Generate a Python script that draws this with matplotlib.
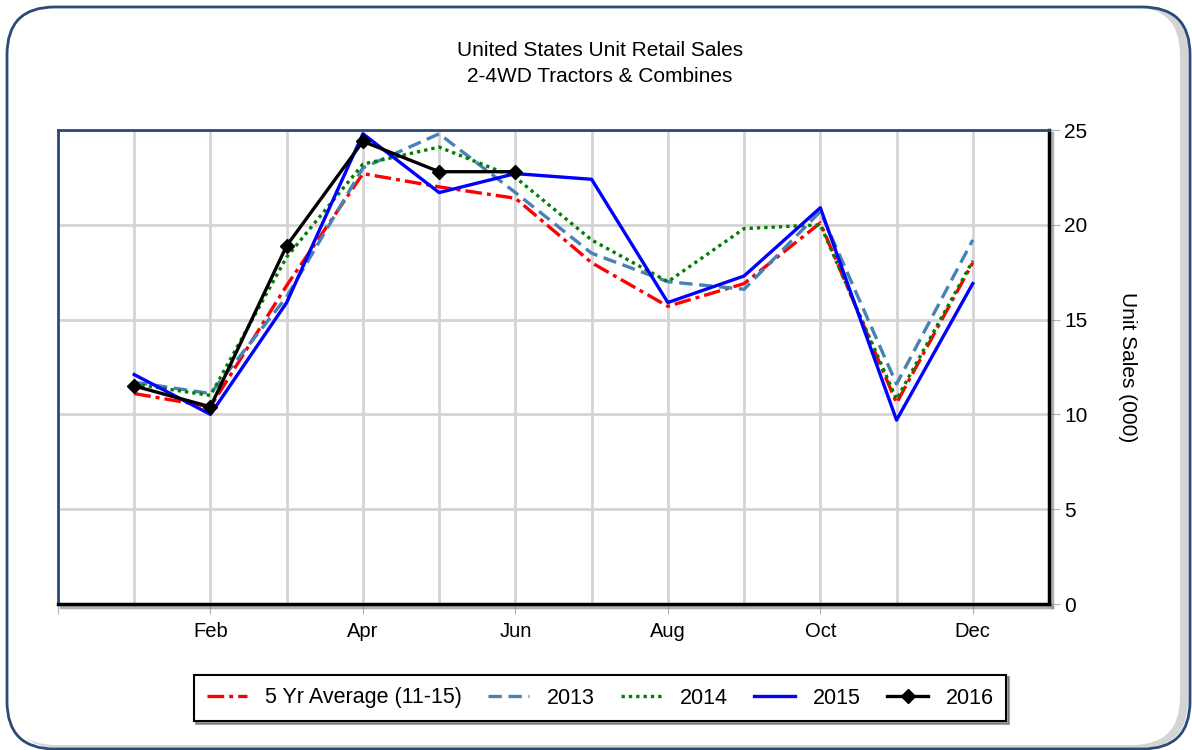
import matplotlib
matplotlib.use("Agg")
import matplotlib.pyplot as plt
from matplotlib.patches import FancyBboxPatch
import matplotlib.patheffects as pe

plt.rcParams['font.family'] = ['Liberation Sans', 'DejaVu Sans']

months = ["Jan", "Feb", "Mar", "Apr", "May", "Jun", "Jul", "Aug", "Sep", "Oct", "Nov", "Dec"]
avg_5yr = [11.1, 10.4, 16.8, 22.7, 22.0, 21.4, 18.0, 15.7, 16.9, 20.1, 10.6, 18.0]
s2013 = [11.7, 11.1, 16.2, 23.0, 24.8, 21.7, 18.5, 17.0, 16.6, 20.7, 11.6, 19.2]
s2014 = [11.6, 11.0, 18.3, 23.2, 24.1, 22.5, 19.2, 17.0, 19.8, 20.0, 10.8, 18.1]
s2015 = [12.1, 10.0, 15.9, 24.8, 21.7, 22.7, 22.4, 15.9, 17.3, 20.9, 9.7, 16.9]
s2016 = [11.5, 10.4, 18.9, 24.4, 22.8, 22.8]
title_lines = ["United States Unit Retail Sales", "2-4WD Tractors & Combines"]
ylabel = "Unit Sales (000)"
labels = ["5 Yr Average (11-15)", "2013", "2014", "2015", "2016"]

W, H = 1192, 750
fig = plt.figure(figsize=(W / 100, H / 100), dpi=100)
fig.patch.set_facecolor('white')

# outer rounded frame with shadow
shadow = FancyBboxPatch((12 / W, 2 / H), (1176 / W), 742 / H,
                        boxstyle="round,pad=0,rounding_size=0.04",
                        transform=fig.transFigure, facecolor='#d4d4d4',
                        edgecolor='none', zorder=0, mutation_aspect=W / H)
inner = FancyBboxPatch((8 / W, 5 / H), (1172 / W), 738 / H,
                       boxstyle="round,pad=0,rounding_size=0.04",
                       transform=fig.transFigure, facecolor='white',
                       edgecolor='none', zorder=0.1,
                       mutation_aspect=W / H)
frame = FancyBboxPatch((7 / W, 1 / H), (1183 / W), 742 / H,
                       boxstyle="round,pad=0,rounding_size=0.04",
                       transform=fig.transFigure, facecolor='none',
                       edgecolor='#2b4a78', linewidth=2, zorder=0.2,
                       mutation_aspect=W / H)
fig.patches.extend([shadow, inner, frame])

ax = fig.add_axes([58 / W, 1 - 604 / H, (1049 - 58) / W, (604 - 130) / H])
ax.set_zorder(2)
x = list(range(1, 13))

ax.plot(x, avg_5yr, color='#ff0000', lw=2.4, linestyle=(0, (5, 1.5, 1.2, 1.5)), label=labels[0], zorder=3)
ax.plot(x, s2013, color='#4682b4', lw=2.4, linestyle=(0, (4, 2)), label=labels[1], zorder=3)
ax.plot(x, s2014, color='#008000', lw=2.4, linestyle=(0, (1, 1.2)), label=labels[2], zorder=3)
ax.plot(x, s2015, color='#0000ff', lw=2.4, linestyle='-', label=labels[3], zorder=3)
ax.plot(x[:len(s2016)], s2016, color='black', lw=2.4, marker='D', markersize=7.5,
        label=labels[4], zorder=4)

ax.set_xlim(0, 13)
ax.set_ylim(0, 25)
ax.set_xticks(x, minor=True)
ax.set_xticks([0, 2, 4, 6, 8, 10, 12])
ax.set_xticklabels([""] + [months[i - 1] for i in [2, 4, 6, 8, 10, 12]])
ax.grid(True, which='both', axis='x', color='#d4d4d4', lw=2)
ax.grid(True, which='major', axis='y', color='#d4d4d4', lw=2)
ax.set_axisbelow(True)
ax.tick_params(axis='x', which='minor', length=0)
ax.tick_params(axis='x', which='major', length=7, color='#b0b0b0', labelsize=14.5, pad=6)
ax.yaxis.tick_right()
ax.yaxis.set_label_position('right')
ax.set_yticks([0, 5, 10, 15, 20, 25])
ax.tick_params(axis='y', length=8, color='#b0b0b0', labelsize=15, pad=3)
ax.set_ylabel(ylabel, rotation=270, fontsize=15, labelpad=22, va='bottom')

for s in ['left', 'top']:
    ax.spines[s].set_color('#2b4a78')
    ax.spines[s].set_linewidth(2)
for s in ['right', 'bottom']:
    ax.spines[s].set_color('black')
    ax.spines[s].set_linewidth(2.5)
    ax.spines[s].set_path_effects([pe.SimpleLineShadow(offset=(2, -2), shadow_color='gray', alpha=0.6), pe.Normal()])

fig.text(0.503, 1 - 50 / H, title_lines[0], ha='center', va='center', fontsize=15)
fig.text(0.503, 1 - 76 / H, title_lines[1], ha='center', va='center', fontsize=15)

leg = fig.legend(loc='center', bbox_to_anchor=(600 / W, 1 - 698 / H), ncol=5,
                 fontsize=15.5, frameon=True, fancybox=False, shadow=True,
                 handlelength=1.9, columnspacing=1.25, handletextpad=0.8,
                 borderpad=0.6, borderaxespad=0)
leg.get_frame().set_edgecolor('black')
leg.get_frame().set_linewidth(1.5)

fig.savefig('out.png', dpi=100)
